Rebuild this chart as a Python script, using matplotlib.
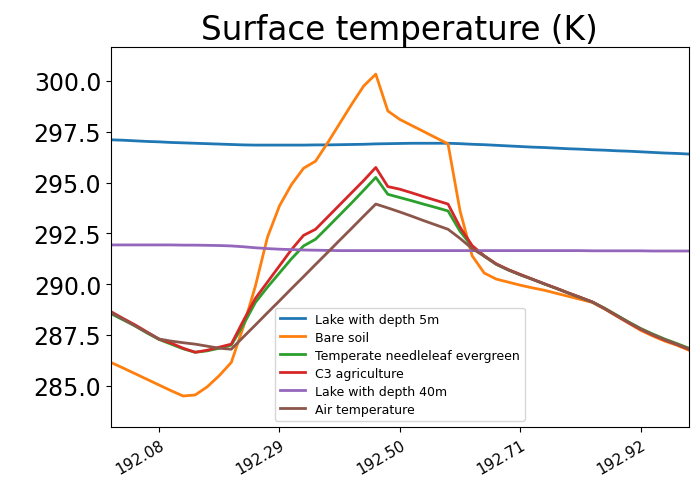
import numpy as np
import matplotlib
matplotlib.use("Agg")
import matplotlib.pyplot as plt

# half-hourly time axis (day of year)
steps = np.arange(49)
time_days = 192 + steps / 48.0

lake5 = [297.10, 297.08, 297.05, 297.02, 297.00, 296.97, 296.95, 296.93, 296.91, 296.89,
         296.87, 296.85, 296.84, 296.84, 296.84, 296.84, 296.84, 296.85, 296.85, 296.86,
         296.87, 296.88, 296.90, 296.91, 296.92, 296.93, 296.93, 296.93, 296.93, 296.91,
         296.88, 296.86, 296.83, 296.80, 296.77, 296.74, 296.72, 296.69, 296.66, 296.64,
         296.61, 296.59, 296.56, 296.54, 296.51, 296.48, 296.45, 296.43, 296.40]

bare_soil = [286.15, 285.88, 285.60, 285.32, 285.04, 284.76, 284.50, 284.55, 284.95, 285.50,
             286.15, 287.90, 289.90, 292.30, 293.85, 294.90, 295.70, 296.05, 296.95, 297.90,
             298.85, 299.75, 300.33, 298.52, 298.10, 297.80, 297.50, 297.20, 296.90, 293.60,
             291.40, 290.55, 290.25, 290.10, 289.95, 289.82, 289.70, 289.55, 289.40, 289.25,
             289.10, 288.78, 288.43, 288.08, 287.73, 287.45, 287.20, 287.00, 286.75]

needleleaf = [288.55, 288.25, 287.95, 287.60, 287.28, 287.05, 286.82, 286.65, 286.72, 286.85,
              287.00, 288.00, 289.10, 289.85, 290.55, 291.25, 291.88, 292.21, 292.80, 293.40,
              294.00, 294.62, 295.25, 294.42, 294.26, 294.10, 293.93, 293.77, 293.60, 292.60,
              291.85, 291.38, 290.98, 290.70, 290.46, 290.24, 290.01, 289.79, 289.56, 289.34,
              289.12, 288.82, 288.48, 288.14, 287.82, 287.55, 287.30, 287.08, 286.85]

c3_agri = [288.65, 288.32, 288.00, 287.65, 287.30, 287.10, 286.85, 286.65, 286.75, 286.90,
           287.05, 288.20, 289.30, 290.10, 290.90, 291.70, 292.40, 292.70, 293.30, 293.90,
           294.50, 295.10, 295.74, 294.80, 294.67, 294.49, 294.30, 294.12, 293.94, 292.80,
           291.90, 291.40, 291.00, 290.72, 290.48, 290.25, 290.02, 289.80, 289.57, 289.35,
           289.12, 288.80, 288.45, 288.10, 287.78, 287.50, 287.25, 287.03, 286.80]

lake40 = [291.93, 291.93, 291.93, 291.93, 291.93, 291.93, 291.92, 291.92, 291.91, 291.90,
          291.88, 291.84, 291.79, 291.75, 291.72, 291.70, 291.68, 291.67, 291.66, 291.65,
          291.65, 291.65, 291.65, 291.65, 291.65, 291.65, 291.65, 291.65, 291.65, 291.65,
          291.65, 291.65, 291.65, 291.65, 291.65, 291.65, 291.65, 291.65, 291.65, 291.65,
          291.64, 291.64, 291.64, 291.64, 291.64, 291.63, 291.63, 291.63, 291.63]

air_temp = [288.60, 288.28, 287.95, 287.62, 287.30, 287.20, 287.12, 287.05, 286.95, 286.85,
            286.80, 287.40, 287.99, 288.59, 289.18, 289.78, 290.37, 290.97, 291.56, 292.16,
            292.75, 293.35, 293.94, 293.75, 293.55, 293.34, 293.12, 292.91, 292.70, 292.25,
            291.75, 291.38, 290.98, 290.70, 290.46, 290.24, 290.01, 289.79, 289.56, 289.34,
            289.12, 288.80, 288.46, 288.12, 287.80, 287.52, 287.27, 287.05, 286.82]

series = [
    ("Lake with depth 5m", lake5, "#1f77b4"),
    ("Bare soil", bare_soil, "#ff7f0e"),
    ("Temperate needleleaf evergreen", needleleaf, "#2ca02c"),
    ("C3 agriculture", c3_agri, "#d62728"),
    ("Lake with depth 40m", lake40, "#9467bd"),
    ("Air temperature", air_temp, "#8c564b"),
]

xtick_hours = [2, 7, 12, 17, 22]
xtick_vals = [192 + h / 24.0 for h in xtick_hours]
xtick_labels = ["192.08", "192.29", "192.50", "192.71", "192.92"]
ytick_vals = [285.0, 287.5, 290.0, 292.5, 295.0, 297.5, 300.0]

fig = plt.figure(figsize=(6.93, 4.81), dpi=100)
ax = fig.add_axes([0.160, 0.110, 0.834, 0.790])

for label, vals, col in series:
    ax.plot(time_days, vals, color=col, lw=2, label=label)

ax.set_xlim(192.0, 193.0)
ax.set_ylim(282.97, 301.66)
ax.set_xticks(xtick_vals)
ax.set_xticklabels(xtick_labels, rotation=30, ha="right", fontsize=11,
                   rotation_mode="anchor")
ax.set_yticks(ytick_vals)
ax.set_yticklabels([f"{v:.1f}" for v in ytick_vals], fontsize=17)
ax.set_title("Surface temperature (K)", fontsize=23.5)
ax.legend(loc="lower center", fontsize=9, labelspacing=0.4)

fig.savefig("out.png", dpi=100)
